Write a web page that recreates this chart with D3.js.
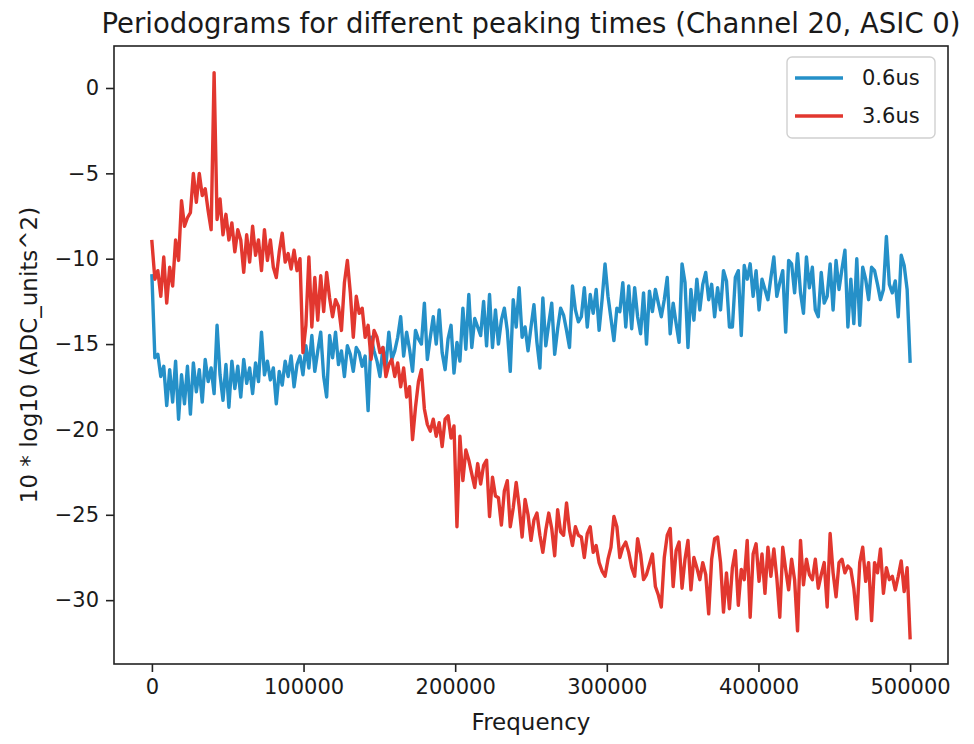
<!DOCTYPE html>
<html>
<head>
<meta charset="utf-8">
<script src="https://cdn.jsdelivr.net/npm/d3@7"></script>
<style>
  html, body { margin: 0; padding: 0; background: #ffffff; }
  svg text { font-family: "DejaVu Sans", sans-serif; fill: #1a1a1a; }
</style>
</head>
<body>
<svg id="chart" width="974" height="744"></svg>
<script>
// Periodogram of one channel for two shaper peaking times (dB, 10*log10 of ADC_units^2).
const nyquist = 500000;
const nBins = 257;
const binWidth = nyquist / (nBins - 1);
const frequencies = d3.range(nBins).map(i => i * binWidth);

const seriesNames = ["0.6us", "3.6us"];
const seriesColors = ["#2590c8", "#e2372f"];

const psd06 = [
  -11.0, -15.8, -15.6, -16.9, -16.3, -18.6, -16.5, -18.4, -16.0, -19.4,
  -16.8, -18.5, -16.3, -19.1, -16.1, -17.8, -16.5, -18.4, -15.9, -17.2,
  -16.4, -17.9, -13.9, -16.8, -18.3, -16.2, -18.7, -16.0, -17.6, -16.3,
  -18.1, -15.9, -17.3, -16.4, -17.9, -16.1, -17.2, -14.3, -16.8, -16.0,
  -17.1, -16.4, -18.5, -16.6, -17.4, -16.0, -16.9, -15.7, -17.5, -16.2,
  -15.7, -16.8, -15.1, -16.4, -14.5, -16.6, -15.4, -14.3, -16.9, -18.1,
  -14.5, -15.8, -14.3, -16.2, -15.4, -16.9, -15.1, -15.6, -16.6, -15.2,
  -15.5, -16.3, -15.7, -18.9, -14.6, -15.4, -16.0, -16.9, -15.2, -16.3,
  -14.3, -15.9, -15.4, -14.6, -13.4, -15.7, -14.3, -15.3, -16.6, -14.2,
  -14.7, -15.0, -12.6, -15.9, -14.6, -13.4, -15.0, -13.0, -15.5, -16.5,
  -14.7, -13.9, -16.7, -14.9, -16.0, -12.9, -15.3, -12.1, -15.2, -13.5,
  -14.0, -14.5, -12.5, -15.1, -12.1, -15.2, -13.0, -15.0, -13.6, -12.9,
  -14.2, -16.6, -12.4, -14.0, -11.7, -14.6, -14.0, -15.4, -14.0, -12.7,
  -14.9, -16.4, -12.3, -15.1, -13.8, -12.6, -15.6, -14.1, -12.9, -13.3,
  -14.2, -15.2, -11.6, -13.0, -13.7, -13.4, -11.7, -14.0, -12.1, -13.2,
  -11.8, -14.2, -12.4, -10.3, -12.2, -13.5, -14.8, -12.9, -13.1, -11.4,
  -14.0, -11.6, -14.1, -11.7, -13.4, -14.4, -12.0, -15.0, -11.9, -13.1,
  -11.8, -12.6, -13.4, -12.4, -11.1, -14.4, -12.6, -13.8, -14.9, -10.3,
  -11.4, -15.2, -11.8, -13.6, -11.2, -13.0, -11.5, -10.8, -12.4, -11.5,
  -13.4, -11.7, -13.0, -10.7, -11.3, -14.0, -14.0, -11.1, -10.7, -14.5,
  -10.4, -11.2, -10.3, -12.2, -10.7, -13.0, -11.2, -11.8, -12.4, -11.1,
  -9.9, -12.2, -11.4, -10.7, -14.3, -10.1, -10.3, -12.0, -9.7, -12.0,
  -13.2, -9.9, -11.7, -10.5, -13.0, -13.4, -10.8, -12.6, -12.2, -10.3,
  -13.0, -10.1, -11.8, -10.6, -9.5, -14.0, -11.2, -13.8, -10.0, -13.9,
  -10.5, -11.2, -12.4, -10.5, -10.7, -11.5, -12.4, -11.8, -8.7, -11.5,
  -12.0, -11.3, -13.4, -9.8, -10.4, -11.8, -16.0
];

const psd36 = [
  -9.0, -11.2, -10.7, -12.2, -9.9, -12.6, -10.5, -11.6, -8.9, -10.1,
  -6.6, -8.1, -7.6, -7.3, -5.0, -6.7, -5.0, -6.3, -5.9, -7.2,
  -8.3, 0.9, -7.7, -6.5, -8.6, -7.4, -8.9, -7.9, -9.6, -8.3,
  -8.9, -10.8, -8.6, -10.2, -8.1, -9.8, -8.9, -10.7, -8.3, -10.1,
  -8.9, -10.5, -11.1, -9.6, -8.5, -10.2, -9.7, -10.6, -9.5, -10.7,
  -10.0, -15.5, -13.9, -9.9, -14.0, -11.1, -13.6, -11.0, -13.1, -10.8,
  -12.3, -13.4, -12.4, -12.8, -14.2, -11.4, -10.1, -12.0, -14.6, -12.2,
  -13.2, -12.9, -14.6, -13.9, -15.9, -14.2, -14.6, -15.5, -15.2, -16.9,
  -16.2, -15.9, -16.9, -16.1, -17.5, -16.4, -18.1, -17.5, -20.6, -18.7,
  -17.2, -16.5, -18.8, -19.7, -20.1, -19.4, -20.4, -19.6, -21.0, -19.4,
  -19.2, -20.5, -19.8, -25.7, -20.4, -23.0, -21.2, -21.8, -22.6, -23.4,
  -22.0, -23.2, -22.1, -21.8, -25.1, -22.8, -23.9, -24.0, -25.6, -23.6,
  -23.0, -25.7, -24.6, -23.1, -24.5, -26.3, -24.1, -25.0, -26.5, -25.3,
  -24.9, -26.2, -27.2, -25.9, -24.9, -25.8, -27.4, -24.7, -26.0, -26.2,
  -24.3, -25.9, -26.8, -25.7, -26.2, -26.3, -27.5, -26.1, -25.7, -27.2,
  -26.8, -27.8, -28.3, -28.6, -27.6, -26.9, -25.1, -25.7, -27.5, -26.9,
  -26.6, -27.2, -28.1, -28.6, -26.4, -27.3, -28.8, -28.5, -27.9, -27.3,
  -29.2, -29.7, -30.4, -27.5, -26.2, -25.8, -29.2, -27.1, -26.6, -29.3,
  -27.6, -26.5, -29.4, -27.5, -28.1, -28.8, -27.8, -28.5, -30.8, -27.6,
  -26.4, -26.3, -27.8, -30.7, -28.4, -30.5, -28.1, -27.1, -30.3, -28.2,
  -28.8, -26.5, -31.0, -27.3, -26.7, -28.9, -27.3, -29.6, -26.9, -28.6,
  -27.0, -28.7, -31.0, -26.9, -28.2, -29.4, -27.6, -28.8, -31.8, -26.5,
  -29.1, -27.6, -28.5, -28.8, -27.6, -29.3, -28.5, -27.8, -30.4, -26.1,
  -28.4, -29.8, -27.8, -27.6, -28.4, -28.0, -28.2, -29.3, -31.1, -27.8,
  -26.9, -28.9, -27.8, -31.2, -27.8, -28.4, -27.0, -29.6, -28.1, -28.8,
  -28.6, -29.4, -28.6, -27.7, -29.5, -28.1, -32.2
];

const xTickValues = [0, 100000, 200000, 300000, 400000, 500000];
const yTickValues = [-30, -25, -20, -15, -10, -5, 0];

const titleText = "Periodograms for different peaking times (Channel 20, ASIC 0)";
const xLabelText = "Frequency";
const yLabelText = "10 * log10 (ADC_units^2)";

// Layout
const plot = { left: 114, right: 948, top: 46, bottom: 664 };
const svg = d3.select("#chart");

const x = d3.scaleLinear().domain([-25000, 525000]).range([plot.left, plot.right]);
const y = d3.scaleLinear().domain([-33.74, 2.46]).range([plot.bottom, plot.top]);

const series = [psd06, psd36].map((vals, k) => ({
  name: seriesNames[k],
  color: seriesColors[k],
  points: vals.map((v, i) => [frequencies[i], v])
}));

// Clip lines to the axes box
svg.append("defs").append("clipPath").attr("id", "plotclip")
  .append("rect")
  .attr("x", plot.left).attr("y", plot.top)
  .attr("width", plot.right - plot.left).attr("height", plot.bottom - plot.top);

const line = d3.line().x(d => x(d[0])).y(d => y(d[1]));

svg.append("g").attr("clip-path", "url(#plotclip)")
  .selectAll("path")
  .data(series)
  .join("path")
  .attr("d", d => line(d.points))
  .attr("fill", "none")
  .attr("stroke", d => d.color)
  .attr("stroke-width", 3.4)
  .attr("stroke-linejoin", "round")
  .attr("stroke-linecap", "square");

// Axes
const xAxis = d3.axisBottom(x).tickValues(xTickValues).tickFormat(d3.format("d"))
  .tickSize(8).tickPadding(7).tickSizeOuter(0);
const yAxis = d3.axisLeft(y).tickValues(yTickValues).tickFormat(d3.format("d"))
  .tickSize(8).tickPadding(7).tickSizeOuter(0);

const gx = svg.append("g").attr("transform", `translate(0,${plot.bottom})`).call(xAxis);
const gy = svg.append("g").attr("transform", `translate(${plot.left},0)`).call(yAxis);

[gx, gy].forEach(g => {
  g.select(".domain").remove();
  g.selectAll(".tick line").attr("stroke", "#222").attr("stroke-width", 1.6);
  g.selectAll(".tick text").attr("font-size", 21).attr("fill", "#1a1a1a")
    .style("font-family", "'DejaVu Sans', sans-serif");
});

// Axes frame
svg.append("rect")
  .attr("x", plot.left).attr("y", plot.top)
  .attr("width", plot.right - plot.left).attr("height", plot.bottom - plot.top)
  .attr("fill", "none").attr("stroke", "#222").attr("stroke-width", 1.6);

// Titles
svg.append("text")
  .attr("x", (plot.left + plot.right) / 2).attr("y", 33)
  .attr("text-anchor", "middle").attr("font-size", 27.5)
  .text(titleText);

svg.append("text")
  .attr("x", (plot.left + plot.right) / 2).attr("y", 730)
  .attr("text-anchor", "middle").attr("font-size", 23)
  .text(xLabelText);

svg.append("text")
  .attr("transform", `translate(37,${(plot.top + plot.bottom) / 2}) rotate(-90)`)
  .attr("text-anchor", "middle").attr("font-size", 23)
  .text(yLabelText);

// Legend
const legend = svg.append("g").attr("transform", "translate(787,57)");
legend.append("rect")
  .attr("width", 148).attr("height", 81).attr("rx", 5)
  .attr("fill", "#ffffff").attr("fill-opacity", 0.8)
  .attr("stroke", "#d0d0d0").attr("stroke-width", 1.4);

const items = legend.selectAll("g.item").data(series).join("g")
  .attr("class", "item")
  .attr("transform", (d, i) => `translate(0,${21 + i * 38})`);
items.append("line")
  .attr("x1", 8).attr("x2", 56).attr("y1", 0).attr("y2", 0)
  .attr("stroke", d => d.color).attr("stroke-width", 3.4);
items.append("text")
  .attr("x", 75).attr("y", 0).attr("dy", "0.35em")
  .attr("font-size", 21)
  .text(d => d.name);
</script>
</body>
</html>
